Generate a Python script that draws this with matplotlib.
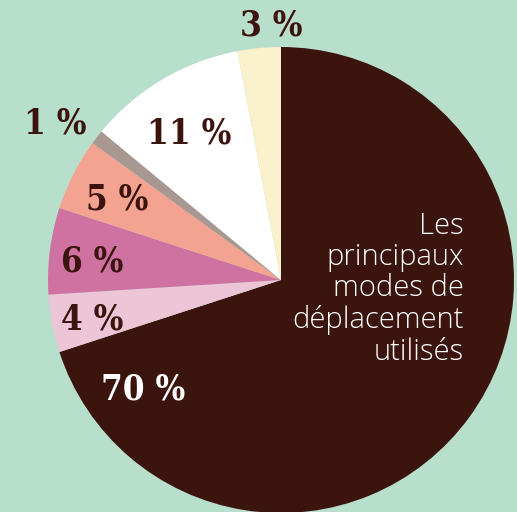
import matplotlib.pyplot as plt

# share of trips per mode, clockwise from the top
shares = [70, 4, 6, 5, 1, 11, 3]
labels = ["70 %", "4 %", "6 %", "5 %", "1 %", "11 %", "3 %"]
colors = ["#3b140e", "#ecc5d7", "#cf72a2", "#f5a391", "#a89891", "#ffffff", "#f9f0cc"]
label_colors = ["white", "#3b140e", "#3b140e", "#3b140e", "#3b140e", "#3b140e", "#3b140e"]
title_lines = ["Les", "principaux", "modes de", "déplacement", "utilisés"]

# label spots in pixels (x, y from top)
label_pos = [(143, 389), (92, 319), (92, 262), (117, 199), (55, 123), (189, 133), (271, 26)]

W, H = 517, 512
bg = "#b8dfcc"

fig = plt.figure(figsize=(W / 100, H / 100), dpi=100, facecolor=bg)
ax = fig.add_axes([0, 0, 1, 1])
ax.set_facecolor(bg)

cx, cy, r = 281, H - 280, 233
ax.pie(shares, colors=colors, startangle=90, counterclock=False,
       center=(cx, cy), radius=r, frame=True,
       wedgeprops=dict(linewidth=0))

for lab, (x, y), c in zip(labels, label_pos, label_colors):
    ax.text(x, H - y, lab, ha="center", va="center", color=c,
            fontsize=25, fontweight="bold", family="DejaVu Serif",
            fontstretch="condensed")

ax.text(464, H - 289, "\n".join(title_lines), ha="right", va="center",
        color="white", fontsize=21, family="Open Sans", fontweight="light",
        linespacing=1.08)

ax.set_xlim(0, W)
ax.set_ylim(0, H)
ax.set_aspect("auto")
ax.axis("off")

fig.savefig("out.png", dpi=100, facecolor=bg)
